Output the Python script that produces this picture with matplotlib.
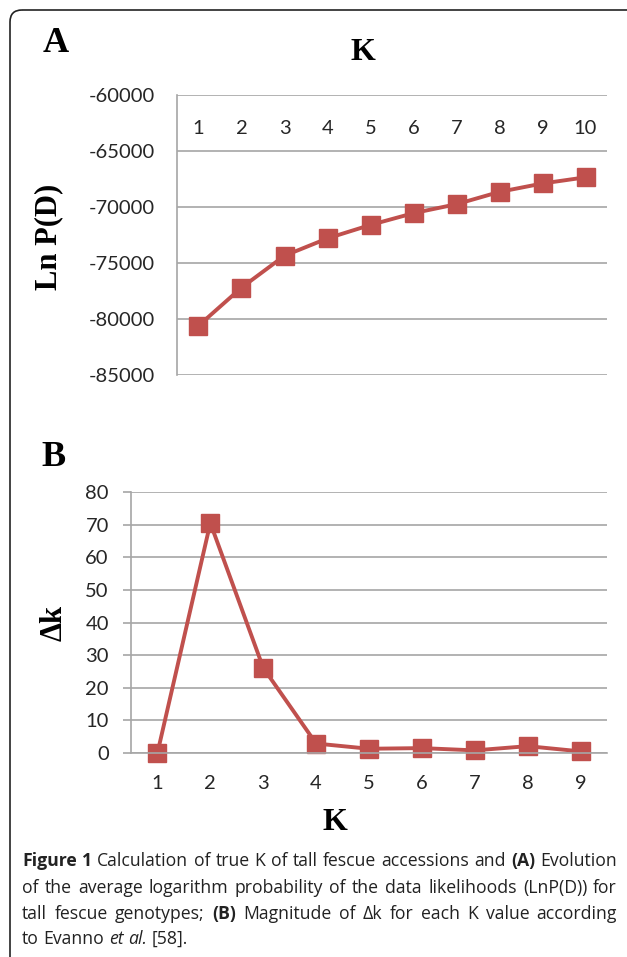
import matplotlib
matplotlib.use('Agg')
import matplotlib.pyplot as plt
from matplotlib.patches import FancyBboxPatch

# ---------------- data ----------------
k_a = [1, 2, 3, 4, 5, 6, 7, 8, 9, 10]
lnpd = [-80600, -77200, -74350, -72800, -71600, -70550, -69750, -68650, -67900, -67350]
a_yticks = [-85000, -80000, -75000, -70000, -65000, -60000]
a_yticklabels = ['-85000', '-80000', '-75000', '-70000', '-65000', '-60000']

k_b = [1, 2, 3, 4, 5, 6, 7, 8, 9]
delta_k = [0.0, 70.5, 26.1, 2.9, 1.3, 1.5, 0.8, 2.1, 0.5]
b_yticks = [0, 10, 20, 30, 40, 50, 60, 70, 80]

caption_lines = [
    [("Figure 1", "bold", "normal"), (" Calculation of true K of tall fescue accessions and ", "normal", "normal"),
     ("(A)", "bold", "normal"), (" Evolution", "normal", "normal")],
    [("of the average logarithm probability of the data likelihoods (LnP(D)) for", "normal", "normal")],
    [("tall fescue genotypes; ", "normal", "normal"), ("(B)", "bold", "normal"),
     (" Magnitude of \u0394k for each K value according", "normal", "normal")],
    [("to Evanno ", "normal", "normal"), ("et al.", "normal", "italic"), (" [58].", "normal", "normal")],
]

# ---------------- style ----------------
W, H = 627, 957
RED = '#C0504D'
GRID = '#A6A6A6'
TICKC = '#262626'
TICKFONT = 'Lato'
SERIF = 'Liberation Serif'
CAPFONT = 'Open Sans'

fig = plt.figure(figsize=(W / 100, H / 100), dpi=100)

def fy(py):
    return 1 - py / H

# background frame
bg = fig.add_axes([0, 0, 1, 1])
bg.set_xlim(0, W)
bg.set_ylim(H, 0)
bg.axis('off')
bg.add_patch(FancyBboxPatch((10, 10), 660, 960, boxstyle='round,pad=0,rounding_size=12',
                            fill=False, ec='#222222', lw=1.2))

# ---------------- panel A ----------------
axA = fig.add_axes([177 / W, 1 - 375 / H, 430 / W, 280 / H])
axA.plot(k_a, lnpd, color=RED, lw=2.8, marker='s', ms=13.5, mfc=RED, mec=RED, clip_on=False)
axA.set_xlim(0.5, 10.5)
axA.set_ylim(-85000, -60000)
axA.set_yticks(a_yticks)
axA.set_yticklabels(a_yticklabels)
axA.set_xticks(k_a)
axA.set_xticklabels([str(k) for k in k_a])
axA.yaxis.grid(True, color=GRID, lw=1.2)
axA.set_axisbelow(True)
for s in ['top', 'right', 'bottom']:
    axA.spines[s].set_visible(False)
axA.spines['left'].set_color(GRID)
axA.spines['left'].set_linewidth(1.2)
axA.tick_params(axis='y', length=0, pad=16, labelsize=14.5, labelcolor=TICKC)
axA.tick_params(axis='x', length=0, top=False, bottom=False, labeltop=True, labelbottom=False,
                pad=-30, labelsize=14.5, labelcolor=TICKC)
for lab in axA.get_xticklabels() + axA.get_yticklabels():
    lab.set_fontfamily(TICKFONT)

fig.text(56 / W, fy(43), 'A', fontsize=26, fontweight='bold', family=SERIF, ha='center', va='center')
fig.text(363 / W, fy(52), 'K', fontsize=23, fontweight='bold', family=SERIF, ha='center', va='center')
fig.text(49 / W, fy(237), 'Ln P(D)', fontsize=22, fontweight='bold', family=SERIF, ha='center',
         va='center', rotation=90)

# ---------------- panel B ----------------
axB = fig.add_axes([131 / W, 1 - 753 / H, 476 / W, 261 / H])
axB.plot(k_b, delta_k, color=RED, lw=2.8, marker='s', ms=13.5, mfc=RED, mec=RED, clip_on=False)
axB.set_xlim(0.5, 9.5)
axB.set_ylim(0, 80)
axB.set_yticks(b_yticks)
axB.set_xticks(k_b)
axB.yaxis.grid(True, color=GRID, lw=1.2)
axB.set_axisbelow(True)
for s in ['top', 'right']:
    axB.spines[s].set_visible(False)
for s in ['left', 'bottom']:
    axB.spines[s].set_color(GRID)
    axB.spines[s].set_linewidth(1.2)
axB.tick_params(axis='y', length=6, width=1.2, color=GRID, pad=10, labelsize=14.5, labelcolor=TICKC)
axB.tick_params(axis='x', length=0, pad=16, labelsize=14.5, labelcolor=TICKC)
for lab in axB.get_xticklabels() + axB.get_yticklabels():
    lab.set_fontfamily(TICKFONT)

fig.text(54 / W, fy(457), 'B', fontsize=26, fontweight='bold', family=SERIF, ha='center', va='center')
fig.text(54 / W, fy(623), '\u0394k', fontsize=22, fontweight='bold', family=SERIF, ha='center',
         va='center', rotation=90)
fig.text(335 / W, fy(822), 'K', fontsize=23, fontweight='bold', family=SERIF, ha='center', va='center')

# ---------------- caption (justified) ----------------
renderer = fig.canvas.get_renderer()
cap_y = [861, 888, 914, 939]
X0, X1 = 22, 617

def width_of(txt, size, w, st):
    t = fig.text(0, 0, txt, fontsize=size, fontweight=w, fontstyle=st, family=CAPFONT)
    wd = t.get_window_extent(renderer).width
    t.remove()
    return wd

def tokens(segs):
    out = []
    for txt, w, st in segs:
        for word in txt.split(' '):
            if word:
                out.append((word, w, st))
    return out

# natural font size: line 1 with normal spaces ~ 590 px
ref = caption_lines[0]
nat = sum(width_of(txt, 10, w, st) for txt, w, st in ref)
cap_size = 10 * 588 / nat
space_w = width_of('a a', cap_size, 'normal', 'normal') - width_of('aa', cap_size, 'normal', 'normal')

for i, (segs, yc) in enumerate(zip(caption_lines, cap_y)):
    toks = tokens(segs)
    widths = [width_of(t, cap_size, w, st) for t, w, st in toks]
    if i < len(caption_lines) - 1:
        gap = (X1 - X0 - sum(widths)) / (len(toks) - 1)
    else:
        gap = space_w
    x = X0
    for (txt, w, st), wd in zip(toks, widths):
        fig.text(x / W, fy(yc), txt, fontsize=cap_size, fontweight=w, fontstyle=st,
                 family=CAPFONT, ha='left', va='center', color='#222222')
        x += wd + gap

fig.savefig('out.png', dpi=100)
